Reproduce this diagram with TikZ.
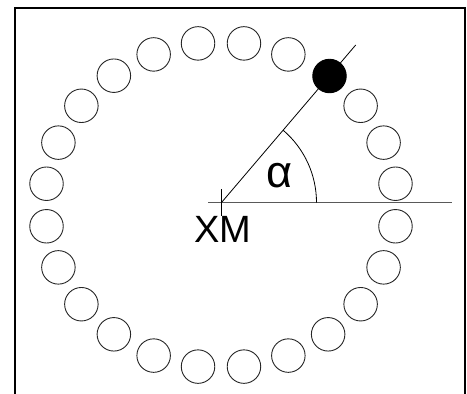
\documentclass[tikz,border=0pt]{standalone}
\usepackage{fontspec}
\setmainfont{Liberation Sans}
\begin{document}
\begin{tikzpicture}[x=1pt,y=-1pt,
  ring/.style={draw=black!85, line width=0.9pt, circle, minimum size=33.5pt, inner sep=0pt},
  filledring/.style={ring, draw=black, fill=black},
  framestyle/.style={line width=1.3pt},
  thinline/.style={line width=0.8pt},
  axisline/.style={draw=black!65, line width=1.3pt},
  lbl/.style={inner sep=0pt, font=\fontsize{38}{40}\selectfont},
  greeklbl/.style={inner sep=0pt, font=\fontsize{45}{47}\selectfont}]
\useasboundingbox (0,0) rectangle (467,394);
% frame (open at the bottom)
\coordinate (f1) at (15,394);
\coordinate (f2) at (15,8);
\coordinate (f3) at (465,8);
\coordinate (f4) at (465,394);
\draw[framestyle] (f1) -- (f2) -- (f3) -- (f4);
% centre and helper points
\coordinate (xm) at (221.5,202.5);
\coordinate (rayend) at (355.7,45);
\coordinate (hl) at (208,202.5);
\coordinate (hr) at (452,202.5);
\coordinate (vt) at (221.5,189);
\coordinate (vb) at (221.5,216);
\coordinate (arcstart) at (316.5,202.5);
% lines
\draw[axisline] (hl) -- (hr);
\draw[thinline] (vt) -- (vb);
\draw[thinline] (xm) -- (rayend);
\draw[thinline] (arcstart) arc[start angle=0, end angle=-49.4, radius=95];
% ring of circles
\foreach \k in {0,1,2,4,5,...,23} {
  \pgfmathsetmacro\ang{7.5+15*\k}
  \node[ring] (c\k) at ({221+176*cos(\ang)}, {205-163*sin(\ang)}) {};
}
\node[filledring] (c3) at (329.5,76) {};
% labels
\node[lbl] (xmlabel) at (223,229.5) {XM};
\node[greeklbl] (alphalabel) at (280,176) {α};
\end{tikzpicture}
\end{document}
